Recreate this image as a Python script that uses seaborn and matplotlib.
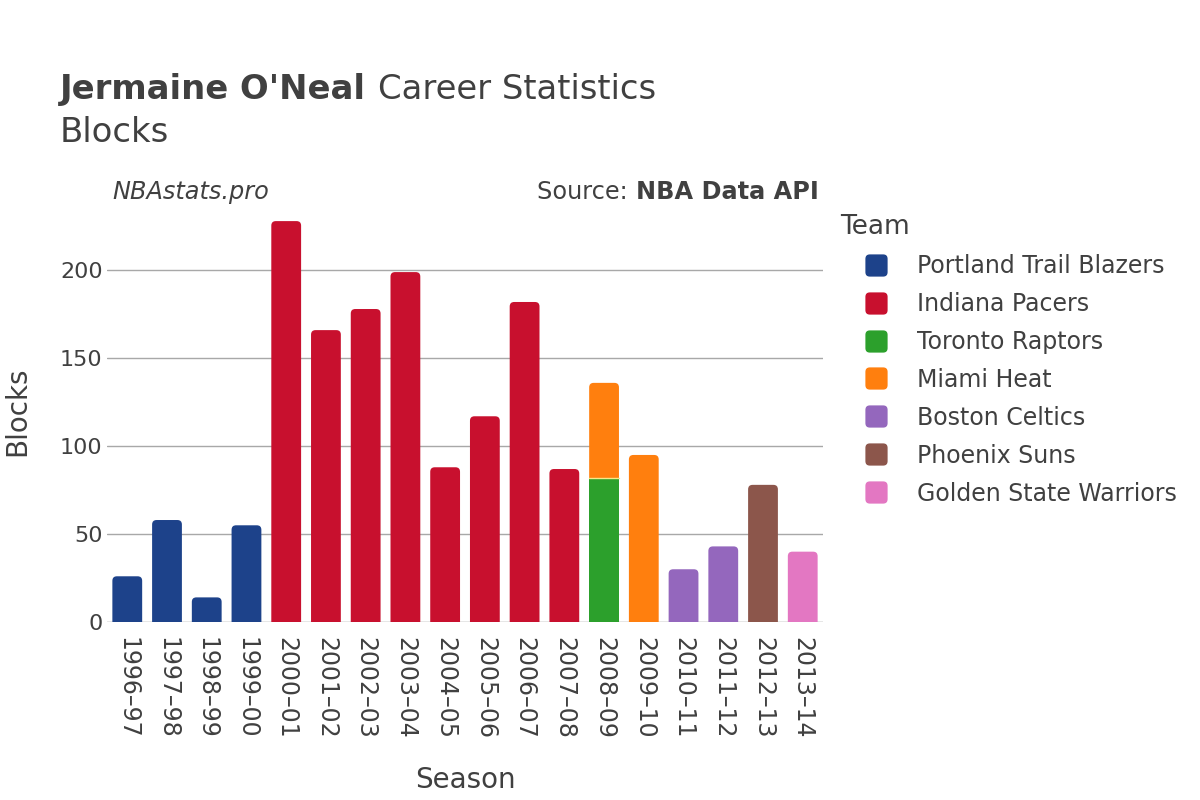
import matplotlib
matplotlib.use("Agg")
import matplotlib.pyplot as plt
from matplotlib.patches import FancyBboxPatch
from matplotlib.lines import Line2D
from matplotlib.path import Path
import seaborn as sns
import pandas as pd
import numpy as np

seasons = ["1996–97", "1997–98", "1998–99", "1999–00", "2000–01", "2001–02",
           "2002–03", "2003–04", "2004–05", "2005–06", "2006–07", "2007–08",
           "2008–09", "2008–09", "2009–10", "2010–11", "2011–12", "2012–13", "2013–14"]
teams = ["Portland Trail Blazers"] * 4 + ["Indiana Pacers"] * 8 + \
        ["Toronto Raptors", "Miami Heat", "Miami Heat", "Boston Celtics",
         "Boston Celtics", "Phoenix Suns", "Golden State Warriors"]
blocks = [26, 58, 14, 55, 228, 166, 178, 199, 88, 117, 182, 87,
          82, 54, 95, 30, 43, 78, 40]

team_order = ["Portland Trail Blazers", "Indiana Pacers", "Toronto Raptors",
              "Miami Heat", "Boston Celtics", "Phoenix Suns", "Golden State Warriors"]
team_colors = ["#1d428a", "#c8102e", "#2ca02c", "#ff7f0e", "#9467bd", "#8c564b", "#e377c2"]
season_order = list(dict.fromkeys(seasons))

df = pd.DataFrame({"Season": seasons, "Team": teams, "Blocks": blocks})
df["Top"] = df.groupby("Season")["Blocks"].cumsum()

sns.set_theme(style="white")
plt.rcParams["font.family"] = ["DejaVu Sans"]
TXT = "#404040"

fig = plt.figure(figsize=(12, 8), dpi=100)
AX_L, AX_B, AX_W, AX_H = 0.0895, 0.2225, 0.596, 0.5275
ax = fig.add_axes([AX_L, AX_B, AX_W, AX_H])

palette = dict(zip(team_order, team_colors))
sns.barplot(data=df, x="Season", y="Top", hue="Team", order=season_order,
            hue_order=team_order, palette=palette, dodge=False, width=0.75,
            saturation=1, legend=False, ax=ax, linewidth=0)

ax.set_ylim(0, 240)
ax.set_xlim(-0.5, len(season_order) - 0.5)

tops = df.groupby("Season")["Top"].max()
px_x = (ax.get_xlim()[1] - ax.get_xlim()[0]) / (AX_W * 1200)
px_y = (ax.get_ylim()[1] - ax.get_ylim()[0]) / (AX_H * 800)
r = 4.5 * px_x
for cont in list(ax.containers):
    for p in list(cont.patches):
        h = p.get_height()
        if not np.isfinite(h) or h == 0:
            continue
        x, w = p.get_x(), p.get_width()
        season = season_order[int(round(x + w / 2))]
        is_top = abs(h - tops[season]) < 1e-6
        col = p.get_facecolor()
        p.set_visible(False)
        if is_top:
            fb = FancyBboxPatch((x, -10), w, h + 10,
                                boxstyle=f"round,pad=0,rounding_size={r}",
                                mutation_aspect=px_y / px_x,
                                facecolor=col, edgecolor="none", zorder=2)
            ax.add_patch(fb)
        else:
            p.set_visible(True)
            p.set_zorder(3)
            ax.plot([x, x + w], [h, h], color="#f5e88a", lw=1, zorder=4)

ax.set_yticks([0, 50, 100, 150, 200])
ax.grid(axis="y", color="#a8a8a8", lw=1)
ax.set_axisbelow(True)
ax.axhline(0, color="#e6e6e6", lw=2, zorder=1)
for s in ax.spines.values():
    s.set_visible(False)
ax.tick_params(axis="y", length=0, labelsize=16, labelcolor=TXT, pad=3.5)
ax.tick_params(axis="x", length=0, labelsize=17, labelcolor=TXT, pad=11)
plt.setp(ax.get_xticklabels(), rotation=-90, va="top", ha="center")
ax.set_xlabel("Season", fontsize=20, color=TXT, labelpad=19)
ax.set_ylabel("Blocks", fontsize=20, color=TXT, labelpad=20.5)

renderer = fig.canvas.get_renderer()

def run_text(x, y, parts, ha="left"):
    objs = []
    for s, kw in parts:
        objs.append(fig.text(x, y, s, color=TXT, va="baseline", **kw))
    widths = [o.get_window_extent(renderer).width / fig.bbox.width for o in objs]
    total = sum(widths)
    cx = x - total if ha == "right" else x
    for o, w in zip(objs, widths):
        o.set_x(cx)
        cx += w

run_text(0.05, 0.876, [("Jermaine O'Neal ", dict(fontsize=24.4, fontweight="bold")),
                       ("Career Statistics", dict(fontsize=24.4))])
fig.text(0.05, 0.823, "Blocks", fontsize=24.4, color=TXT, va="baseline")
fig.text(0.094, 0.751, "NBAstats.pro", fontsize=17.3, style="italic", color=TXT, va="baseline")
run_text(0.682, 0.751, [("Source: ", dict(fontsize=17.3)),
                        ("NBA Data API", dict(fontsize=17.3, fontweight="bold"))], ha="right")

rsq = FancyBboxPatch((-0.5, -0.5), 1, 1, boxstyle="round,pad=0,rounding_size=0.2").get_path()
rsq_marker = Path(rsq.vertices, rsq.codes)
handles = [Line2D([0], [0], marker=rsq_marker, linestyle="none", markersize=16,
                  markerfacecolor=c, markeredgecolor="none") for c in team_colors]
leg = fig.legend(handles, team_order, loc="upper left", bbox_to_anchor=(0.696, 0.7384),
                 frameon=False, fontsize=17, title="Team", title_fontsize=19,
                 labelspacing=0.59, handlelength=3.05, handletextpad=0.21,
                 borderaxespad=0, borderpad=0.2)
leg._legend_box.align = "left"
for t in leg.get_texts():
    t.set_color(TXT)
leg.get_title().set_color(TXT)

fig.savefig("out.png", dpi=100)
